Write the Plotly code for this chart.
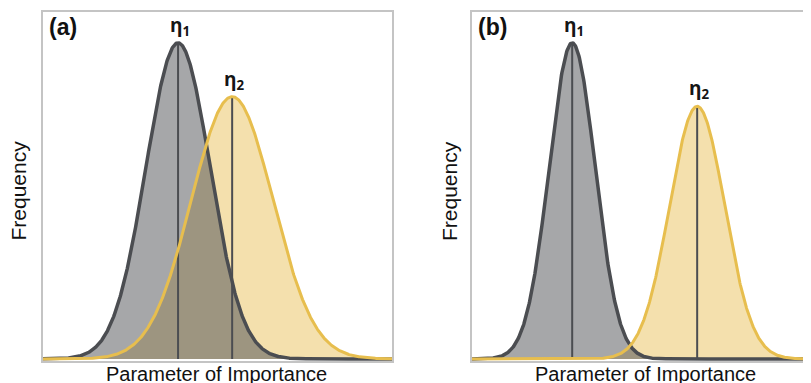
import numpy as np
import plotly.graph_objects as go

# ---- data (x in arbitrary units, 100 units per panel width; y in 0-1) ----
panel_labels = ["(a)", "(b)"]
eta_labels = ["η<sub>1</sub>", "η<sub>2</sub>"]
x_title = "Parameter of Importance"
y_title = "Frequency"

mean_eta1 = [38.7, 28.7]
mean_eta2 = [54.2, 64.5]
sd_eta1 = [9.2, 6.6]
sd_eta2 = [11.7, 7.9]
peak_eta1 = [0.911, 0.911]
peak_eta2 = [0.756, 0.728]
x_max = [100.0, 99.4]

GRAY_FILL = "#a6a7a9"
GRAY_LINE = "#4b4d51"
YEL_FILL = "#f4e0ad"
YEL_LINE = "#e7be4e"
OVERLAP = "#9d9580"
BORDER = "#c4c4c4"

W, H = 811, 383
OFF = 8  # page body margin
top_px, bot_px = 12 - OFF, 361 - OFF
ph = bot_px - top_px
doms = [((43 - OFF) / W, (392 - OFF) / W), ((472 - OFF) / W, 1.0)]

fig = go.Figure()

def curve(x, m, s, p):
    return p * np.exp(-0.5 * ((x - m) / s) ** 2)

for i in range(2):
    xa = "x" if i == 0 else "x2"
    ya = "y" if i == 0 else "y2"
    x = np.linspace(0, 100, 801)
    y1 = curve(x, mean_eta1[i], sd_eta1[i], peak_eta1[i])
    y2 = curve(x, mean_eta2[i], sd_eta2[i], peak_eta2[i])
    ov = np.minimum(y1, y2)
    common = dict(xaxis=xa, yaxis=ya, mode="lines", hoverinfo="skip", showlegend=False)
    fig.add_trace(go.Scatter(x=x, y=y1, fill="tozeroy", fillcolor=GRAY_FILL, line=dict(width=0), **common))
    fig.add_trace(go.Scatter(x=x, y=y2, fill="tozeroy", fillcolor=YEL_FILL, line=dict(width=0), **common))
    fig.add_trace(go.Scatter(x=x, y=ov, fill="tozeroy", fillcolor=OVERLAP, line=dict(width=0), **common))
    fig.add_trace(go.Scatter(x=[mean_eta1[i]] * 2, y=[0, peak_eta1[i]], line=dict(color=GRAY_LINE, width=2), **common))
    fig.add_trace(go.Scatter(x=[mean_eta2[i]] * 2, y=[0, peak_eta2[i]], line=dict(color=GRAY_LINE, width=2), **common))
    fig.add_trace(go.Scatter(x=x, y=y1, line=dict(color=GRAY_LINE, width=3.5), **common))
    fig.add_trace(go.Scatter(x=x, y=y2, line=dict(color=YEL_LINE, width=3), **common))

    # eta labels
    for m, p, lab in [(mean_eta1[i], peak_eta1[i], eta_labels[0]), (mean_eta2[i], peak_eta2[i], eta_labels[1])]:
        fig.add_annotation(x=m, y=p, xref=xa, yref=ya, text=lab, showarrow=False,
                           xanchor="center", yanchor="bottom", yshift=1, xshift=2,
                           font=dict(family="Open Sans", size=19, color="#151515", weight=700))

    d0, d1 = doms[i]
    # panel letter
    fig.add_annotation(x=d0 + 4 / W, y=(bot_px - (27 - OFF)) / ph, xref="paper", yref="paper",
                       text="<b>%s</b>" % panel_labels[i], showarrow=False, xanchor="left", yanchor="middle",
                       font=dict(family="Liberation Sans", size=23, color="#111"))
    # axis titles
    fx = ((17.5 if i == 0 else 449) - OFF) / W
    fig.add_annotation(x=fx, y=(bot_px - (191 - OFF)) / ph, xref="paper", yref="paper",
                       text=y_title, textangle=-90, showarrow=False, xanchor="center", yanchor="middle",
                       font=dict(family="Liberation Sans", size=21, color="#111"))
    cx = ((216 if i == 0 else 645) - OFF) / W
    fig.add_annotation(x=cx, y=0.0, xref="paper", yref="paper", text=x_title, showarrow=False,
                       xanchor="center", yanchor="top",
                       font=dict(family="Liberation Sans", size=20, color="#111"))

axis_common = dict(showgrid=False, zeroline=False, showticklabels=False, ticks="",
                   showline=True, linecolor=BORDER, linewidth=2, layer="below traces")
fig.update_layout(
    width=W, height=H,
    margin=dict(l=0, r=0, t=top_px, b=H - bot_px),
    paper_bgcolor="white", plot_bgcolor="white",
    xaxis=dict(domain=list(doms[0]), range=[0, x_max[0]], mirror=True, **axis_common),
    yaxis=dict(domain=[0, 1], range=[-0.006, 1], mirror=True, **axis_common),
    xaxis2=dict(domain=list(doms[1]), range=[0, x_max[1]], anchor="y2", mirror=True, **axis_common),
    yaxis2=dict(domain=[0, 1], range=[-0.006, 1], anchor="x2", mirror=False, **axis_common),
)

fig.write_html("out.html")
